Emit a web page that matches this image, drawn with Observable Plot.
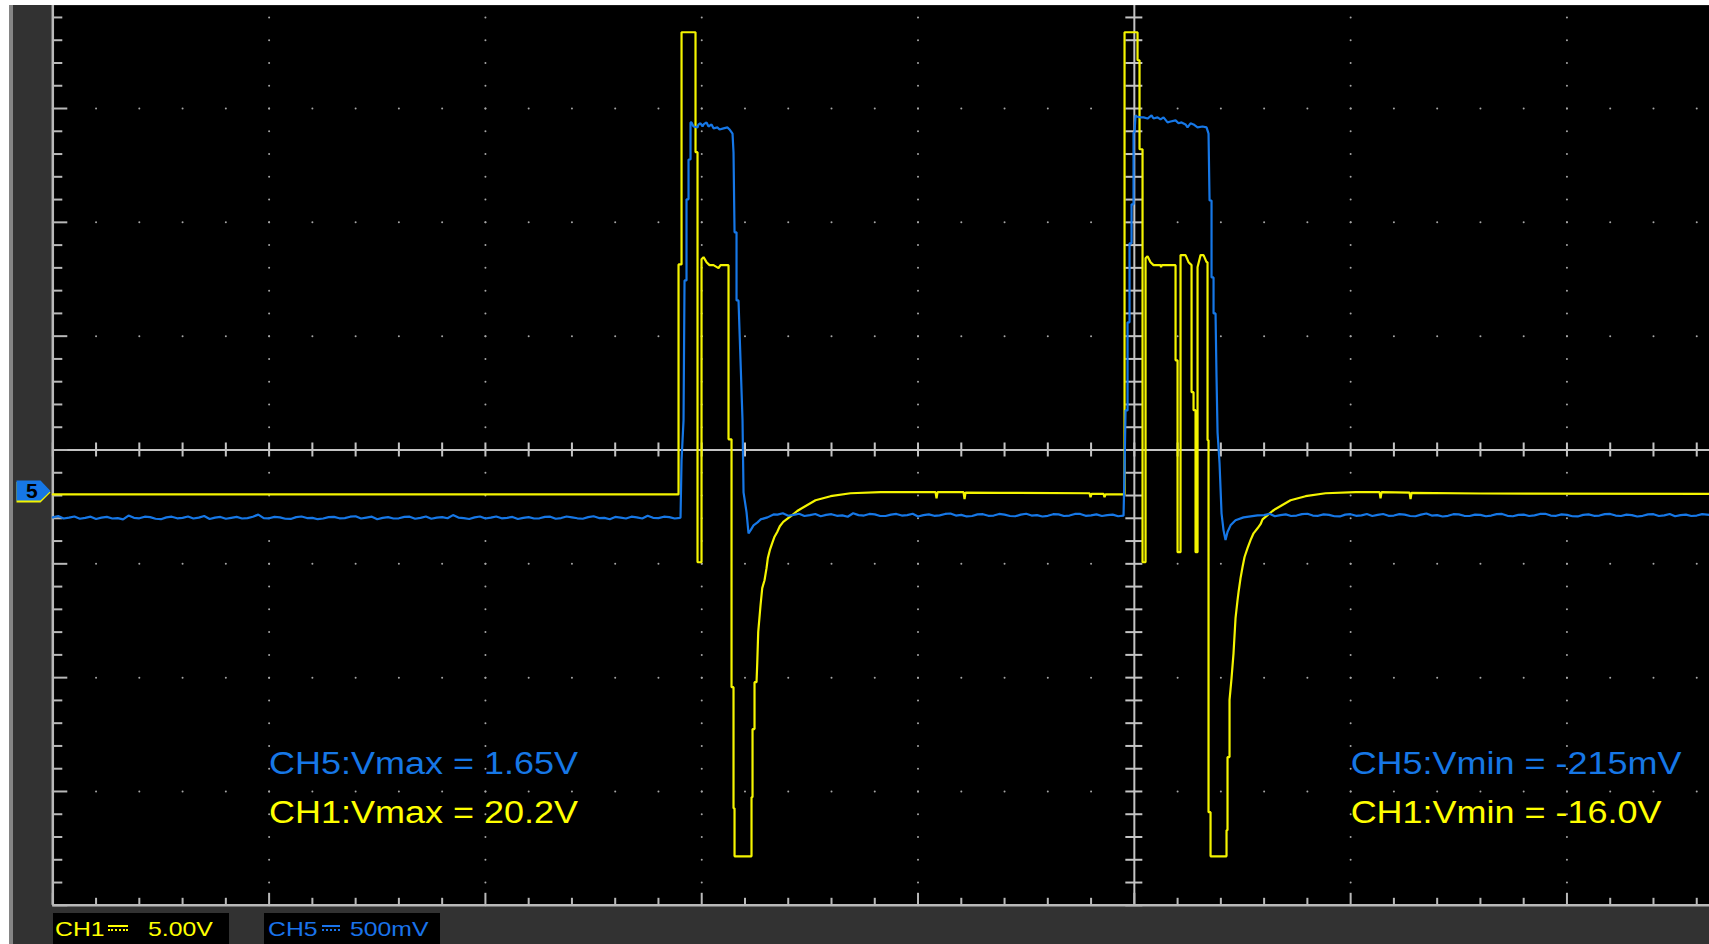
<!DOCTYPE html>
<html>
<head>
<meta charset="utf-8">
<script src="https://cdn.jsdelivr.net/npm/d3@7"></script>
<script src="https://cdn.jsdelivr.net/npm/@observablehq/plot@0.6"></script>
<style>
  html, body { margin: 0; padding: 0; background: #fff; width: 1709px; height: 944px; overflow: hidden; }
  #screen { position: absolute; left: 9px; top: 5px; width: 1700px; height: 939px; background: #323232; }
  #bezel { position: absolute; left: 0; top: 0; width: 4px; height: 939px; background: #858585; z-index: 2; }
  #chart { position: absolute; left: 0; top: 0; }
  #status { position: absolute; left: 0; top: 901px; width: 1700px; height: 38px; font-family: "Liberation Sans", Arial, sans-serif; }
  .chan { position: absolute; top: 7px; width: 176px; height: 31px; background: #000; }
  .chan span { position: absolute; top: 4px; font-size: 21px; line-height: 24px; transform: scaleX(1.18); transform-origin: left center; white-space: nowrap; }
  .chan .dc { position: absolute; top: 12px; height: 2px; border-top: 2px solid; border-bottom: 2px dotted; transform: none; }
</style>
</head>
<body>
<div id="screen">
  <div id="bezel"></div>
  <div id="chart"></div>
  <div id="status"></div>
</div>
<script>
// Channel settings (volts per division and ground offset in divisions)
const ch1VoltsPerDiv = 5.0;
const ch5VoltsPerDiv = 0.5;
const ch1Offset = -0.37;
const ch5Offset = -0.36;

// Measured extremes
const ch1Vmax = 20.2;
const ch1Vmin = -16.0;
const ch5Vmax = 1.65;
const ch5Vmin = -0.215;

// CH1 trace: [time (div), volts]
const ch1Trace = [
  [-5.0, -0.1], [-2.1072, -0.1], [-2.1072, 10.0], [-2.0933, 10.0], [-2.0933, ch1Vmax],
  [-2.0287, ch1Vmax], [-2.0287, 14.93], [-2.0194, 14.93], [-2.0194, -3.08], [-2.0009, -3.08],
  [-2.0009, 10.23], [-1.9917, 10.32], [-1.9778, 10.10], [-1.9639, 9.97], [-1.9455, 9.97],
  [-1.9223, 9.84], [-1.9131, 9.97], [-1.8761, 9.97], [-1.8761, 2.32], [-1.8622, 2.32],
  [-1.8622, -8.57], [-1.8530, -8.57], [-1.8530, -13.89], [-1.8483, -13.89], [-1.8483, ch1Vmin],
  [-1.7698, ch1Vmin], [-1.7698, -13.40], [-1.7651, -13.40], [-1.7651, -10.41], [-1.7559, -10.41],
  [-1.7559, -8.35], [-1.7466, -8.35], [-1.7434, -7.53], [-1.7388, -6.14], [-1.7281, -4.97],
  [-1.7203, -4.22], [-1.7097, -3.87], [-1.7004, -3.34], [-1.6944, -2.90], [-1.6852, -2.55],
  [-1.6741, -2.24], [-1.6634, -1.96], [-1.6510, -1.75], [-1.6389, -1.50], [-1.6232, -1.31],
  [-1.6080, -1.20], [-1.5816, -1.01], [-1.5585, -0.83], [-1.5432, -0.74], [-1.4739, -0.36],
  [-1.4045, -0.18], [-1.3121, -0.05], [-1.1734, 0.0], [-0.9191, 0.0], [-0.9145, -0.27],
  [-0.9098, 0.0], [-0.7896, 0.0], [-0.7850, -0.31], [-0.7804, -0.02], [-0.6186, -0.03],
  [-0.2071, -0.05], [-0.2025, -0.22], [-0.1979, -0.08], [-0.1424, -0.08], [-0.1378, -0.22],
  [-0.1331, -0.1], [-0.0453, -0.1], [-0.0453, ch1Vmax], [0.0148, ch1Vmax], [0.0148, 18.97],
  [0.0240, 18.97], [0.0240, 15.06], [0.0379, 15.06], [0.0379, -3.08], [0.0518, -3.08],
  [0.0518, 10.27], [0.0610, 10.36], [0.0749, 10.10], [0.0888, 9.97], [0.1211, 9.97],
  [0.1235, 9.88], [0.1270, 9.97], [0.1905, 9.97], [0.1905, 5.79], [0.1998, 5.79],
  [0.1998, -2.64], [0.2136, -2.64], [0.2136, 10.41], [0.2367, 10.41], [0.2506, 10.10],
  [0.2645, 9.97], [0.2645, 4.39], [0.2737, 4.39], [0.2737, 3.60], [0.2830, 3.60],
  [0.2830, -2.64], [0.2922, -2.64], [0.2922, 9.88], [0.3061, 10.41], [0.3199, 10.41],
  [0.3338, 10.10], [0.3384, 10.10], [0.3384, 2.28], [0.3430, 2.28], [0.3430, -14.06],
  [0.3523, -14.06], [0.3523, ch1Vmin], [0.4262, ch1Vmin], [0.4262, -14.85], [0.4308, -14.85],
  [0.4308, -11.64], [0.4401, -11.64], [0.4401, -9.13], [0.4494, -8.17], [0.4586, -7.07],
  [0.4678, -5.54], [0.4771, -4.74], [0.4817, -4.39], [0.4910, -3.78], [0.5002, -3.29],
  [0.5095, -2.85], [0.5233, -2.46], [0.5372, -2.11], [0.5511, -1.81], [0.5696, -1.59],
  [0.5834, -1.41], [0.5927, -1.20], [0.6158, -1.01], [0.6389, -0.83], [0.6528, -0.74],
  [0.7221, -0.36], [0.7915, -0.18], [0.8840, -0.05], [1.0227, 0.0], [1.1336, 0.0],
  [1.1382, -0.27], [1.1429, 0.0], [1.2723, -0.02], [1.2770, -0.31], [1.2816, -0.03],
  [1.6, -0.06], [2.6593, -0.08]
];

// CH5 trace, in pieces: [time (div), volts]
const ch5Baseline = [
  [-5.00, -0.116], [-4.975, -0.110], [-4.95, -0.121], [-4.925, -0.117], [-4.90, -0.112],
  [-4.875, -0.122], [-4.85, -0.118], [-4.825, -0.113], [-4.80, -0.123], [-4.775, -0.117],
  [-4.75, -0.114], [-4.725, -0.121], [-4.70, -0.119], [-4.675, -0.125], [-4.65, -0.108],
  [-4.625, -0.118], [-4.60, -0.120], [-4.575, -0.113], [-4.55, -0.115], [-4.525, -0.122],
  [-4.50, -0.124], [-4.475, -0.116], [-4.45, -0.113], [-4.425, -0.120], [-4.40, -0.118],
  [-4.375, -0.112], [-4.35, -0.121], [-4.325, -0.117], [-4.30, -0.110], [-4.275, -0.123],
  [-4.25, -0.117], [-4.225, -0.114], [-4.20, -0.122], [-4.175, -0.118], [-4.15, -0.114],
  [-4.125, -0.121], [-4.10, -0.119], [-4.075, -0.113], [-4.05, -0.104], [-4.025, -0.119],
  [-4.00, -0.120], [-3.975, -0.114], [-3.95, -0.116], [-3.925, -0.122], [-3.90, -0.123],
  [-3.875, -0.115], [-3.85, -0.112], [-3.825, -0.119], [-3.80, -0.118], [-3.775, -0.124],
  [-3.75, -0.121], [-3.725, -0.115], [-3.70, -0.114], [-3.675, -0.120], [-3.65, -0.119],
  [-3.625, -0.113], [-3.60, -0.111], [-3.575, -0.121], [-3.55, -0.117], [-3.525, -0.113],
  [-3.50, -0.124], [-3.475, -0.118], [-3.45, -0.115], [-3.425, -0.121], [-3.40, -0.120],
  [-3.375, -0.114], [-3.35, -0.113], [-3.325, -0.122], [-3.30, -0.118], [-3.275, -0.112],
  [-3.25, -0.122], [-3.225, -0.117], [-3.20, -0.115], [-3.175, -0.120], [-3.15, -0.106],
  [-3.125, -0.117], [-3.10, -0.119], [-3.075, -0.123], [-3.05, -0.116], [-3.025, -0.112],
  [-3.00, -0.121], [-2.975, -0.117], [-2.95, -0.112], [-2.925, -0.120], [-2.90, -0.118],
  [-2.875, -0.114], [-2.85, -0.123], [-2.825, -0.118], [-2.80, -0.115], [-2.775, -0.121],
  [-2.75, -0.120], [-2.725, -0.114], [-2.70, -0.113], [-2.675, -0.122], [-2.65, -0.119],
  [-2.625, -0.112], [-2.60, -0.116], [-2.575, -0.120], [-2.55, -0.122], [-2.525, -0.115],
  [-2.50, -0.111], [-2.475, -0.119], [-2.45, -0.118], [-2.425, -0.124], [-2.40, -0.114],
  [-2.375, -0.117], [-2.35, -0.121], [-2.325, -0.113], [-2.30, -0.116], [-2.275, -0.121],
  [-2.25, -0.109], [-2.225, -0.118], [-2.20, -0.119], [-2.175, -0.113], [-2.15, -0.115],
  [-2.125, -0.121], [-2.10, -0.118]
];
const ch5FirstPulse = [
  [-2.0980, -0.116], [-2.0933, 0.134], [-2.0841, 0.310], [-2.0795, 0.925], [-2.0703, 0.925],
  [-2.0703, 1.281], [-2.0610, 1.281], [-2.0610, 1.456], [-2.0518, 1.456], [-2.0518, 1.619],
  [-2.0472, 1.619], [-2.0379, 1.601], [-2.0194, 1.597], [-2.0148, 1.610], [-2.0056, 1.615],
  [-1.9963, 1.601], [-1.9917, 1.610], [-1.9778, 1.619], [-1.9686, 1.601], [-1.9547, 1.610],
  [-1.9455, 1.593], [-1.9270, 1.597], [-1.9177, 1.588], [-1.8992, 1.593], [-1.8807, 1.597],
  [-1.8715, 1.588], [-1.8576, 1.570], [-1.8530, 1.487], [-1.8483, 1.136], [-1.8391, 1.136],
  [-1.8391, 0.837], [-1.8299, 0.837], [-1.8114, 0.310], [-1.8067, -0.006], [-1.7929, -0.093],
  [-1.7836, -0.186], [-1.7744, -0.173], [-1.7605, -0.151], [-1.7420, -0.138], [-1.7281, -0.125],
  [-1.6958, -0.116], [-1.6681, -0.103]
];
const ch5Between = [
  [-1.65, -0.104], [-1.625, -0.098], [-1.60, -0.109], [-1.575, -0.105], [-1.55, -0.100],
  [-1.525, -0.110], [-1.50, -0.106], [-1.475, -0.101], [-1.45, -0.111], [-1.425, -0.105],
  [-1.40, -0.102], [-1.375, -0.109], [-1.35, -0.107], [-1.325, -0.113], [-1.30, -0.098],
  [-1.275, -0.106], [-1.25, -0.108], [-1.225, -0.101], [-1.20, -0.103], [-1.175, -0.110],
  [-1.15, -0.110], [-1.125, -0.104], [-1.10, -0.101], [-1.075, -0.108], [-1.05, -0.106],
  [-1.025, -0.100], [-1.00, -0.112], [-0.975, -0.106], [-0.95, -0.103], [-0.925, -0.109],
  [-0.90, -0.107], [-0.875, -0.101], [-0.85, -0.099], [-0.825, -0.108], [-0.80, -0.105],
  [-0.775, -0.112], [-0.75, -0.110], [-0.725, -0.103], [-0.70, -0.102], [-0.675, -0.109],
  [-0.65, -0.108], [-0.625, -0.101], [-0.60, -0.104], [-0.575, -0.110], [-0.55, -0.111],
  [-0.525, -0.104], [-0.50, -0.100], [-0.475, -0.108], [-0.45, -0.106], [-0.425, -0.112],
  [-0.40, -0.109], [-0.375, -0.102], [-0.35, -0.103], [-0.325, -0.110], [-0.30, -0.108],
  [-0.275, -0.101], [-0.25, -0.101], [-0.225, -0.109], [-0.20, -0.107], [-0.175, -0.103],
  [-0.15, -0.110], [-0.125, -0.106], [-0.10, -0.104], [-0.075, -0.111], [-0.05, -0.108]
];
const ch5SecondPulse = [
  [-0.0499, -0.107], [-0.0453, 0.090], [-0.0407, 0.354], [-0.0314, 0.354], [-0.0314, 0.741],
  [-0.0222, 0.741], [-0.0222, 1.088], [-0.0129, 1.088], [-0.0129, 1.259], [-0.0037, 1.259],
  [-0.0037, 1.575], [0.0009, 1.575], [0.0055, ch5Vmax], [0.0102, 1.645], [0.0287, 1.641],
  [0.0425, 1.641], [0.0610, 1.636], [0.0795, ch5Vmax], [0.0888, 1.636], [0.1073, 1.641],
  [0.1211, 1.632], [0.1350, 1.641], [0.1535, 1.619], [0.1674, 1.623], [0.1905, 1.628],
  [0.2044, 1.615], [0.2182, 1.619], [0.2367, 1.610], [0.2460, 1.597], [0.2598, 1.615],
  [0.2737, 1.610], [0.2922, 1.597], [0.3153, 1.601], [0.3338, 1.597], [0.3430, 1.570],
  [0.3477, 1.276], [0.3569, 1.276], [0.3569, 0.938], [0.3662, 0.938], [0.3662, 0.780],
  [0.3754, 0.780], [0.3800, 0.499], [0.3847, 0.257], [0.3939, 0.121], [0.4031, -0.098],
  [0.4124, -0.173], [0.4216, ch5Vmin], [0.4308, -0.180], [0.4447, -0.151], [0.4678, -0.129],
  [0.5048, -0.116], [0.5696, -0.107]
];
const ch5Tail = [
  [0.60, -0.106], [0.625, -0.100], [0.65, -0.111], [0.675, -0.106], [0.70, -0.103],
  [0.725, -0.110], [0.75, -0.108], [0.775, -0.102], [0.80, -0.100], [0.825, -0.108],
  [0.85, -0.109], [0.875, -0.103], [0.90, -0.105], [0.925, -0.111], [0.95, -0.112],
  [0.975, -0.104], [1.00, -0.102], [1.025, -0.109], [1.05, -0.107], [1.075, -0.101],
  [1.10, -0.110], [1.125, -0.105], [1.15, -0.101], [1.175, -0.109], [1.20, -0.108],
  [1.225, -0.102], [1.25, -0.104], [1.275, -0.110], [1.30, -0.111], [1.325, -0.104],
  [1.35, -0.099], [1.375, -0.108], [1.40, -0.106], [1.425, -0.112], [1.45, -0.109],
  [1.475, -0.102], [1.50, -0.103], [1.525, -0.109], [1.55, -0.110], [1.575, -0.104],
  [1.60, -0.105], [1.625, -0.111], [1.65, -0.108], [1.675, -0.102], [1.70, -0.101],
  [1.725, -0.109], [1.75, -0.111], [1.775, -0.105], [1.80, -0.104], [1.825, -0.110],
  [1.85, -0.107], [1.875, -0.101], [1.90, -0.100], [1.925, -0.108], [1.95, -0.109],
  [1.975, -0.103], [2.00, -0.105], [2.025, -0.111], [2.05, -0.112], [2.075, -0.105],
  [2.10, -0.103], [2.125, -0.109], [2.15, -0.108], [2.175, -0.102], [2.20, -0.101],
  [2.225, -0.108], [2.25, -0.110], [2.275, -0.104], [2.30, -0.106], [2.325, -0.112],
  [2.35, -0.109], [2.375, -0.103], [2.40, -0.102], [2.425, -0.110], [2.45, -0.107],
  [2.475, -0.101], [2.50, -0.111], [2.525, -0.106], [2.55, -0.104], [2.575, -0.110],
  [2.60, -0.108], [2.625, -0.102], [2.6593, -0.105]
];
const ch5Trace = [...ch5Baseline, ...ch5FirstPulse, ...ch5Between, ...ch5SecondPulse, ...ch5Tail];

// Measurement readouts
const ch5Readouts = [`CH5:Vmax = ${ch5Vmax.toFixed(2)}V`, `CH5:Vmin = ${Math.round(ch5Vmin * 1000)}mV`];
const ch1Readouts = [`CH1:Vmax = ${ch1Vmax.toFixed(1)}V`, `CH1:Vmin = ${ch1Vmin.toFixed(1)}V`];

// Channel scale labels for the status bar
const channelNames = ["CH1", "CH5"];
const channelScales = ["5.00V", "500mV"];

const yellow = "#f4f400";
const blue = "#1677e6";
const gridGray = "#a6a6a6";
const lineGray = "#c4c4c4";
const font = '"Liberation Sans", Arial, sans-serif';

// Graticule: 5 minor ticks per division
const pxPerDivX = 216.3, pxPerDivY = 113.83;
const minorX = d3.range(-25, 14).map(i => i / 5);
const minorY = d3.range(-20, 20).map(i => i / 5);
const majorX = [-4, -3, -2, -1, 1, 2];
const majorY = [-3, -2, -1, 1, 2, 3];
const gridDots = [
  ...majorX.flatMap(x => minorY.map(y => ({x, y}))),
  ...majorY.flatMap(y => minorX.map(x => ({x, y})))
];

const ch1Div = d => d[1] / ch1VoltsPerDiv + ch1Offset;
const ch5Div = d => d[1] / ch5VoltsPerDiv + ch5Offset;

// Ground reference arrow at the left edge
const groundArrow = {
  draw(ctx) {
    ctx.moveTo(0, 0);
    ctx.lineTo(-10, -10.5);
    ctx.lineTo(-34, -10.5);
    ctx.lineTo(-34, 9.5);
    ctx.lineTo(-10, 9.5);
    ctx.closePath();
  }
};
const groundArrowLow = {
  draw(ctx) {
    ctx.moveTo(0, 0.5);
    ctx.lineTo(-10, -10);
    ctx.lineTo(-34, -10);
    ctx.lineTo(-34, 10.5);
    ctx.lineTo(-10, 10.5);
    ctx.closePath();
  }
};

const chart = Plot.plot({
  width: 1700,
  height: 901,
  marginLeft: 43.3,
  marginRight: 0,
  marginTop: 0,
  marginBottom: 1.2,
  x: {domain: [-5, 2.659], axis: null},
  y: {domain: [-4, 3.905], axis: null},
  style: {background: "transparent", overflow: "visible"},
  marks: [
    Plot.frame({fill: "#000", stroke: null}),
    // dotted division lines
    Plot.dot(gridDots, {x: "x", y: "y", r: 1, fill: gridGray, stroke: null}),
    // centre crosshair with minor ticks
    Plot.ruleY([0], {stroke: lineGray, strokeWidth: 2}),
    Plot.ruleX([0], {stroke: lineGray, strokeWidth: 2}),
    Plot.ruleX(minorX, {x: d => d, y1: -7 / pxPerDivY, y2: 7 / pxPerDivY, stroke: lineGray, strokeWidth: 2}),
    Plot.ruleY(minorY, {y: d => d, x1: -8.5 / pxPerDivX, x2: 8.5 / pxPerDivX, stroke: lineGray, strokeWidth: 2}),
    // left and bottom borders with ticks
    Plot.ruleX([-5], {stroke: "#b9b9b9", strokeWidth: 2.5}),
    Plot.ruleY([-4], {stroke: "#b9b9b9", strokeWidth: 2.5}),
    Plot.ruleY(minorY, {y: d => d, x1: -5, x2: d => -5 + (Number.isInteger(d) ? 15 : 10) / pxPerDivX, stroke: "#b9b9b9", strokeWidth: 2}),
    Plot.ruleX(minorX, {x: d => d, y1: -4, y2: d => -4 + (Number.isInteger(d) ? 12 : 7) / pxPerDivY, stroke: "#b9b9b9", strokeWidth: 2}),
    // traces
    Plot.line(ch1Trace, {x: d => d[0], y: ch1Div, stroke: yellow, strokeWidth: 2.2, strokeLinejoin: "miter"}),
    Plot.line(ch5Trace, {x: d => d[0], y: ch5Div, stroke: blue, strokeWidth: 2.2, strokeLinejoin: "miter"}),
    // readouts
    Plot.text(ch5Readouts, {x: (d, i) => i === 0 ? -4 : 1, y: -2.756, text: d => d, fill: blue,
      textAnchor: "start", lineAnchor: "middle", fontSize: 31, fontFamily: font}),
    Plot.text(ch1Readouts, {x: (d, i) => i === 0 ? -4 : 1, y: -3.186, text: d => d, fill: "#ffff00",
      textAnchor: "start", lineAnchor: "middle", fontSize: 31, fontFamily: font}),
    // ground markers
    Plot.dot([ch1Offset], {x: -5, y: d => d, symbol: groundArrowLow, r: 10, fill: yellow, stroke: null, dx: -2.3}),
    Plot.dot([ch5Offset], {x: -5, y: d => d, symbol: groundArrow, r: 10, fill: blue, stroke: null, dx: -2.3}),
    Plot.text([ch5Offset], {x: -5, y: d => d, text: () => "5", dx: -21, fill: "#000", fontSize: 21,
      fontWeight: "bold", fontFamily: font, lineAnchor: "middle"})
  ]
});

document.getElementById("chart").append(chart);

// Readout font is drawn slightly wide
const readoutTexts = new Set([...ch5Readouts, ...ch1Readouts]);
d3.select(chart).selectAll("text").each(function () {
  if (!readoutTexts.has(this.textContent)) return;
  const w = this.getComputedTextLength();
  this.setAttribute("textLength", (w * 1.16).toFixed(1));
  this.setAttribute("lengthAdjust", "spacingAndGlyphs");
});

// Status bar with channel scales
const status = d3.select("#status");
const boxLayout = [
  {left: 44, name: 2, dc: 55, dcw: 20, scale: 95, color: "#ffff00"},
  {left: 255, name: 4, dc: 58, dcw: 18, scale: 86, color: "#1a73ea"}
];
channelNames.forEach((name, i) => {
  const b = boxLayout[i];
  const box = status.append("div").attr("class", "chan").style("left", b.left + "px");
  box.append("span").text(name).style("left", b.name + "px").style("color", b.color);
  box.append("span").attr("class", "dc").style("left", b.dc + "px").style("width", b.dcw + "px")
    .style("border-color", b.color);
  box.append("span").text(channelScales[i]).style("left", b.scale + "px").style("color", b.color);
});
</script>
</body>
</html>
